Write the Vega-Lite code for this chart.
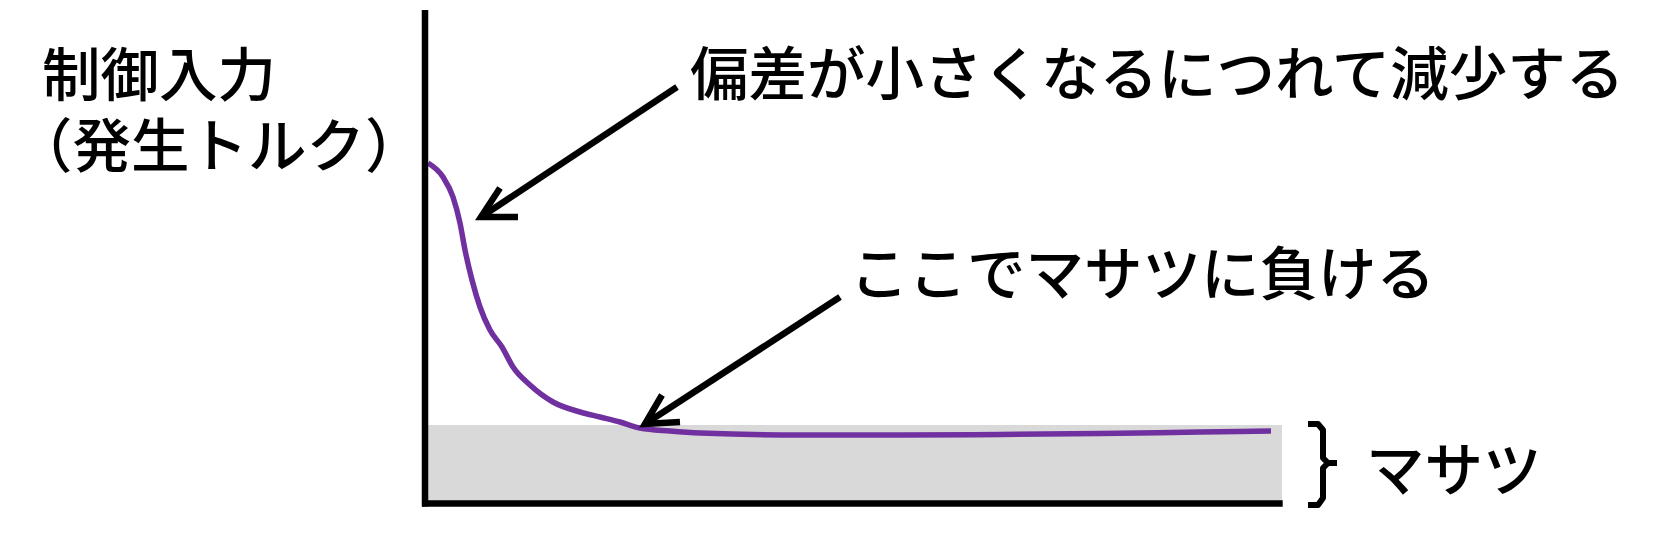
{
  "$schema": "https://vega.github.io/schema/vega-lite/v6.json",
  "width": 1677,
  "height": 536,
  "padding": 0,
  "autosize": {"type": "none"},
  "background": "white",
  "config": {"view": {"stroke": null}, "font": "Noto Sans CJK JP"},
  "datasets": {
    "friction": [{"x": 0, "x2": 857, "y": 0, "y2": 78.5}],
    "curve": [
      {"x": 3, "y": 340.5}, {"x": 18, "y": 326.5}, {"x": 28, "y": 306.5}, {"x": 35, "y": 280.5},
      {"x": 40, "y": 253.5}, {"x": 47, "y": 223.5}, {"x": 55, "y": 196.5}, {"x": 65, "y": 173.5},
      {"x": 77, "y": 156.5}, {"x": 88, "y": 136.5}, {"x": 105, "y": 118.5}, {"x": 128, "y": 101.5},
      {"x": 155, "y": 91.5}, {"x": 175, "y": 86.5}, {"x": 195, "y": 81.5}, {"x": 215, "y": 75.5},
      {"x": 245, "y": 72.5}, {"x": 275, "y": 70.5}, {"x": 375, "y": 68.5}, {"x": 475, "y": 68.5},
      {"x": 575, "y": 69}, {"x": 675, "y": 70}, {"x": 775, "y": 71.5}, {"x": 846, "y": 72.5}
    ],
    "axes": [
      {"seg": "v", "i": 0, "x": 0, "y": -3}, {"seg": "v", "i": 1, "x": 0, "y": 493.5},
      {"seg": "h", "i": 0, "x": -3, "y": 0}, {"seg": "h", "i": 1, "x": 857.7, "y": 0}
    ],
    "arrows": [
      {"seg": "a1", "i": 0, "x": 252, "y": 416.5}, {"seg": "a1", "i": 1, "x": 56, "y": 286.5},
      {"seg": "h1", "i": 0, "x": 75, "y": 315.5}, {"seg": "h1", "i": 1, "x": 56, "y": 286.5}, {"seg": "h1", "i": 2, "x": 93, "y": 286.5},
      {"seg": "a2", "i": 0, "x": 415, "y": 206.5}, {"seg": "a2", "i": 1, "x": 220, "y": 79.5},
      {"seg": "h2", "i": 0, "x": 237, "y": 108.5}, {"seg": "h2", "i": 1, "x": 220, "y": 79.5}, {"seg": "h2", "i": 2, "x": 255, "y": 81.5}
    ],
    "brace": [
      {"seg": "up", "i": 0, "x": 883, "y": 79.5}, {"seg": "up", "i": 1, "x": 893, "y": 79.5},
      {"seg": "up", "i": 2, "x": 898, "y": 73.5}, {"seg": "up", "i": 3, "x": 898, "y": 45.5},
      {"seg": "up", "i": 4, "x": 903, "y": 40.5}, {"seg": "up", "i": 5, "x": 912, "y": 40.5},
      {"seg": "lo", "i": 0, "x": 903, "y": 40.5}, {"seg": "lo", "i": 1, "x": 898, "y": 35.5},
      {"seg": "lo", "i": 2, "x": 898, "y": 5.5}, {"seg": "lo", "i": 3, "x": 893, "y": -1.5},
      {"seg": "lo", "i": 4, "x": 883, "y": -1.5}
    ],
    "labels": [
      {"label": "制御入力", "x": -383, "y": 407.5},
      {"label": "（発生トルク）", "x": -411, "y": 336.5},
      {"label": "偏差が小さくなるにつれて減少する", "x": 265, "y": 408.5},
      {"label": "ここでマサツに負ける", "x": 425, "y": 208.5},
      {"label": "マサツ", "x": 941, "y": 12.5}
    ]
  },
  "encoding": {
    "x": {"field": "x", "type": "quantitative", "scale": {"domain": [-425, 1252], "nice": false, "zero": false}, "axis": null},
    "y": {"field": "y", "type": "quantitative", "scale": {"domain": [-32.5, 503.5], "nice": false, "zero": false}, "axis": null}
  },
  "layer": [
    {
      "data": {"name": "friction"},
      "mark": {"type": "rect", "color": "#D9D9D9"},
      "encoding": {"x2": {"field": "x2"}, "y2": {"field": "y2"}}
    },
    {
      "data": {"name": "curve"},
      "mark": {"type": "line", "color": "#7030A0", "strokeWidth": 5.5, "interpolate": "monotone"},
      "encoding": {}
    },
    {
      "data": {"name": "axes"},
      "mark": {"type": "line", "color": "black", "strokeWidth": 6.5, "strokeCap": "butt"},
      "encoding": {"detail": {"field": "seg"}, "order": {"field": "i"}}
    },
    {
      "data": {"name": "arrows"},
      "mark": {"type": "line", "color": "black", "strokeWidth": 6.5, "strokeCap": "butt", "strokeJoin": "miter"},
      "encoding": {"detail": {"field": "seg"}, "order": {"field": "i"}}
    },
    {
      "data": {"name": "brace"},
      "mark": {"type": "line", "color": "black", "strokeWidth": 6, "strokeCap": "butt", "strokeJoin": "round", "interpolate": "linear"},
      "encoding": {"detail": {"field": "seg"}, "order": {"field": "i"}}
    },
    {
      "data": {"name": "labels"},
      "mark": {"type": "text", "align": "left", "baseline": "alphabetic", "fontSize": 58.5, "fontWeight": 500, "color": "black", "font": "Noto Sans CJK JP"},
      "encoding": {"text": {"field": "label"}}
    }
  ]
}
